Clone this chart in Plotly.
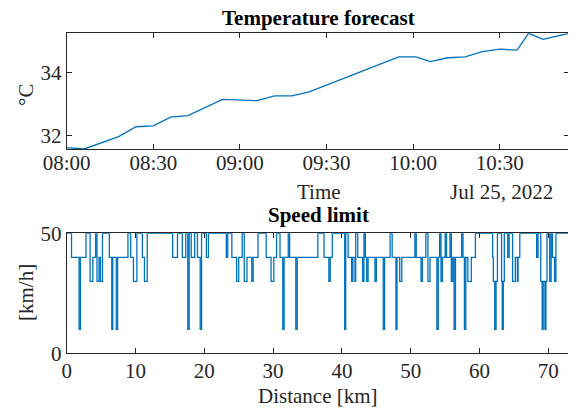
import plotly.graph_objects as go

# ---- Temperature forecast data ----
times = ["2022-07-25 08:00", "2022-07-25 08:06", "2022-07-25 08:18", "2022-07-25 08:24",
         "2022-07-25 08:30", "2022-07-25 08:36", "2022-07-25 08:42", "2022-07-25 08:54",
         "2022-07-25 09:06", "2022-07-25 09:12", "2022-07-25 09:18", "2022-07-25 09:24",
         "2022-07-25 09:55", "2022-07-25 10:01", "2022-07-25 10:06", "2022-07-25 10:12",
         "2022-07-25 10:18", "2022-07-25 10:24", "2022-07-25 10:30", "2022-07-25 10:36",
         "2022-07-25 10:40", "2022-07-25 10:45", "2022-07-25 10:54"]
temps = [31.63, 31.59, 31.98, 32.29, 32.32, 32.59, 32.64, 33.15, 33.11, 33.26, 33.26, 33.39,
         34.49, 34.49, 34.34, 34.46, 34.49, 34.65, 34.73, 34.70, 35.23, 35.04, 35.23]
time_ticks = ["2022-07-25 08:00", "2022-07-25 08:30", "2022-07-25 09:00",
              "2022-07-25 09:30", "2022-07-25 10:00", "2022-07-25 10:30"]
time_tick_labels = ["08:00", "08:30", "09:00", "09:30", "10:00", "10:30"]
temp_ticks = [32, 34]

# ---- Speed limit data (stairs: value holds from distance onward) ----
dist = [0.0, 0.7, 1.8, 2.0, 2.8, 3.4, 3.8, 4.2, 4.4, 4.7, 4.9, 5.2, 6.2, 6.55, 6.7, 7.2, 7.4,
        8.9, 9.3, 9.7, 10.2, 11.0, 11.3, 11.7, 15.4, 16.1, 16.8, 17.3, 17.6, 17.8, 18.1, 18.6,
        19.0, 19.4, 19.6, 20.3, 20.6, 23.2, 23.4, 24.0, 24.7, 25.0, 25.5, 25.8, 26.2, 26.9,
        27.1, 27.8, 29.0, 29.7, 30.1, 30.5, 31.0, 31.4, 31.6, 32.2, 32.4, 33.3, 33.5, 36.5,
        37.4, 38.1, 38.3, 38.6, 40.4, 40.55, 40.9, 41.4, 41.6, 41.9, 42.0, 42.3, 43.0, 43.2,
        43.4, 43.6, 43.8, 44.8, 45.0, 46.0, 46.2, 47.0, 47.3, 47.85, 48.0, 48.4, 48.7, 50.6,
        50.8, 51.5, 51.7, 52.2, 52.5, 52.8, 53.8, 54.0, 54.2, 54.4, 54.6, 55.0, 55.2, 55.7,
        55.9, 56.1, 56.3, 56.5, 57.4, 57.6, 57.8, 58.0, 58.3, 58.8, 59.4, 61.9, 62.0, 62.2,
        62.4, 62.6, 63.2, 63.3, 63.45, 63.6, 64.1, 64.3, 64.8, 65.2, 65.5, 65.6, 65.85, 68.3,
        68.5, 68.9, 69.1, 69.25, 69.5, 69.65, 69.8, 70.2, 70.4, 70.6, 70.9, 71.1, 73.0]
speed = [50, 40, 10, 40, 50, 30, 40, 50, 30, 40, 30, 50, 40, 10, 40, 10, 40,
         50, 40, 30, 50, 40, 30, 50, 40, 50, 40, 50, 10, 50, 40, 50,
         40, 10, 50, 40, 50, 40, 50, 40, 30, 40, 50, 30, 40, 30,
         40, 50, 40, 30, 40, 50, 40, 10, 40, 50, 40, 10, 40, 50,
         40, 30, 40, 50, 10, 50, 40, 30, 40, 30, 50, 40, 30, 50,
         40, 30, 40, 30, 40, 10, 40, 50, 40, 10, 40, 30, 40, 50,
         40, 30, 40, 50, 30, 40, 10, 40, 50, 30, 40, 50, 40, 50,
         30, 40, 10, 40, 50, 40, 10, 40, 30, 40, 50, 40, 30, 10,
         30, 50, 30, 10, 30, 50, 40, 50, 30, 40, 30, 40, 50, 40,
         50, 30, 10, 30, 10, 30, 50, 30, 50, 40, 30, 50, 50]
dist_ticks = [0, 10, 20, 30, 40, 50, 60, 70]
speed_ticks = [0, 50]

BLUE = "#0072BD"
AX = "#262626"
FONT = "Liberation Serif"
FS = 21
W, H = 576, 412
OFF = 8  # page body margin offset


def px(sx):
    return (sx - OFF) / W


def py(sy):
    return (H - (sy - OFF)) / H


fig = go.Figure()
fig.add_trace(go.Scatter(x=times, y=temps, mode="lines", line=dict(color=BLUE, width=1.3),
                         xaxis="x", yaxis="y", showlegend=False))
fig.add_trace(go.Scatter(x=dist, y=speed, mode="lines", line=dict(color=BLUE, width=1.3, shape="hv"),
                         xaxis="x2", yaxis="y2", showlegend=False))

xd = [px(66.7), px(569)]
top_dom = [py(149.3), py(33.3)]
bot_dom = [py(353.3), py(233.3)]

common = dict(showline=True, linecolor=AX, linewidth=1, mirror="allticks", ticks="inside",
              ticklen=5, tickcolor=AX, showgrid=False, zeroline=False, automargin=False,
              tickfont=dict(family=FONT, size=FS, color=AX))

fig.update_layout(
    width=W, height=H, margin=dict(l=0, r=0, t=0, b=0, pad=0),
    paper_bgcolor="white", plot_bgcolor="white",
    xaxis=dict(domain=xd, anchor="y", type="date",
               range=["2022-07-25 08:00", "2022-07-25 10:54"],
               tickvals=time_ticks, ticktext=time_tick_labels, ticklabelstandoff=-6, **common),
    yaxis=dict(domain=top_dom, anchor="x", range=[31.58, 35.23], tickvals=temp_ticks, **common),
    xaxis2=dict(domain=xd, anchor="y2", range=[0, 73.0], tickvals=dist_ticks,
                ticklabelstandoff=-2, layer="below traces", **common),
    yaxis2=dict(domain=bot_dom, anchor="x2", range=[0, 50], tickvals=speed_ticks,
                layer="below traces", **common),
    annotations=[
        dict(text="<b>Temperature forecast</b>", x=px(318), y=py(18), xref="paper", yref="paper",
             showarrow=False, borderpad=0, font=dict(family=FONT, size=FS, color="black"),
             xanchor="center", yanchor="middle"),
        dict(text="<b>Speed limit</b>", x=px(318), y=py(215), xref="paper", yref="paper",
             showarrow=False, font=dict(family=FONT, size=FS, color="black"), xanchor="center", yanchor="middle"),
        dict(text="Time", x=px(319), y=py(192), xref="paper", yref="paper",
             showarrow=False, font=dict(family=FONT, size=FS, color=AX), xanchor="center", yanchor="middle"),
        dict(text="Jul 25, 2022", x=px(555), y=py(192), xref="paper", yref="paper",
             showarrow=False, font=dict(family=FONT, size=FS, color=AX), xanchor="right", yanchor="middle"),
        dict(text="Distance [km]", x=px(318), y=py(396), xref="paper", yref="paper",
             showarrow=False, font=dict(family=FONT, size=FS, color=AX), xanchor="center", yanchor="middle"),
        dict(text="°C", x=px(26), y=py(95), xref="paper", yref="paper", textangle=-90,
             showarrow=False, font=dict(family=FONT, size=FS, color=AX), xanchor="center", yanchor="middle"),
        dict(text="[km/h]", x=px(26), y=py(293), xref="paper", yref="paper", textangle=-90,
             showarrow=False, font=dict(family=FONT, size=FS, color=AX), xanchor="center", yanchor="middle"),
    ],
)

fig.write_html("out.html")
